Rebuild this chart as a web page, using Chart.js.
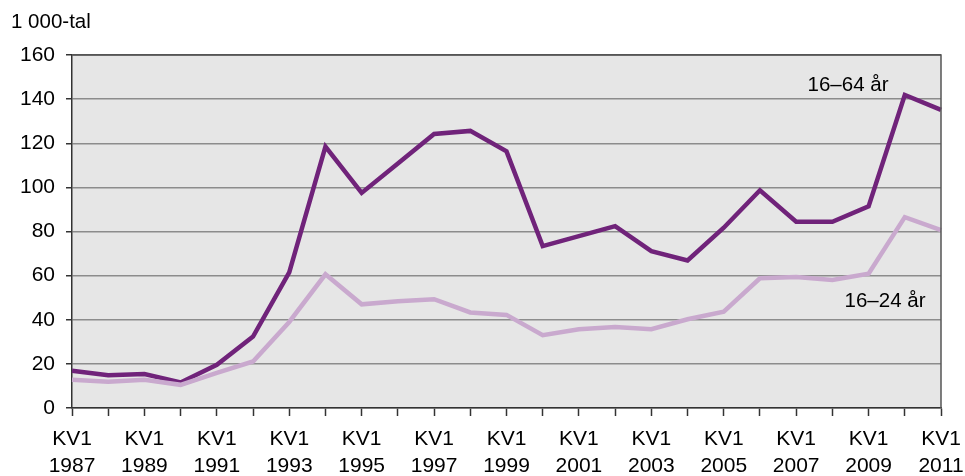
<!DOCTYPE html>
<html>
<head>
<meta charset="utf-8">
<script src="https://cdn.jsdelivr.net/npm/chart.js@4/dist/chart.umd.min.js"></script>
<style>
  html, body { margin: 0; padding: 0; background: #ffffff; }
  #wrap { position: relative; width: 965px; height: 476px; }
</style>
</head>
<body>
<div id="wrap"><canvas id="c" width="965" height="476"></canvas></div>
<script>
const years = [1987,1988,1989,1990,1991,1992,1993,1994,1995,1996,1997,1998,1999,2000,2001,2002,2003,2004,2005,2006,2007,2008,2009,2010,2011];
const quarterLabel = 'KV1';
const series1664 = [16.9,14.9,15.4,11.6,19.6,32.4,61.5,118.5,97.5,110.8,124.2,125.6,116.3,73.4,77.9,82.4,71.1,66.9,81.7,98.7,84.4,84.4,91.4,141.9,135.1];
const series1624 = [12.8,11.9,12.8,10.5,15.9,21.1,39.0,60.6,47.0,48.4,49.3,43.3,42.2,33.0,35.7,36.7,35.7,40.2,43.7,58.8,59.4,58.0,60.9,86.5,80.6];
const seriesNames = ['16–64 år', '16–24 år'];
const yTicks = [0,20,40,60,80,100,120,140,160];
const unitLabel = '1 000-tal';

const FONT = 'Liberation Sans, Arial, sans-serif';

const annotPlugin = {
  id: 'annot',
  afterDraw(chart) {
    const ctx = chart.ctx;
    const a = chart.chartArea;
    ctx.save();
    ctx.strokeStyle = '#555555';
    ctx.lineWidth = 1.5;
    ctx.beginPath();
    ctx.moveTo(a.left, a.top);
    ctx.lineTo(a.right, a.top);
    ctx.lineTo(a.right, a.bottom);
    ctx.stroke();
    ctx.fillStyle = '#000000';
    ctx.font = '20.5px ' + FONT;
    ctx.textAlign = 'left';
    ctx.textBaseline = 'middle';
    ctx.fillText(unitLabel, 11, 22);
    ctx.textAlign = 'center';
    ctx.fillText(seriesNames[0], 848, 85);
    ctx.fillText(seriesNames[1], 885, 301);
    ctx.restore();
  }
};

const bgPlugin = {
  id: 'bg',
  beforeDraw(chart) {
    const a = chart.chartArea;
    const ctx = chart.ctx;
    ctx.save();
    ctx.fillStyle = '#e6e6e6';
    ctx.fillRect(a.left, a.top, a.right - a.left, a.bottom - a.top);
    ctx.restore();
  }
};

new Chart(document.getElementById('c'), {
  type: 'line',
  data: {
    labels: years.map(String),
    datasets: [
      { label: seriesNames[1], data: series1624, borderColor: '#c9a9ce', borderWidth: 4.5, pointRadius: 0, tension: 0, borderJoinStyle: 'miter' },
      { label: seriesNames[0], data: series1664, borderColor: '#70237a', borderWidth: 4.5, pointRadius: 0, tension: 0, borderJoinStyle: 'miter' }
    ]
  },
  options: {
    responsive: false,
    animation: false,
    layout: { padding: { left: 0, top: 55, right: 24, bottom: 0 } },
    plugins: { legend: { display: false }, tooltip: { enabled: false } },
    scales: {
      x: {
        type: 'category',
        offset: false,
        afterFit(s) { s.height = 68; s.paddingRight = 0; s.paddingLeft = 0; },
        border: { display: true, color: '#333333', width: 1.5 },
        grid: { display: true, drawOnChartArea: false, drawTicks: true, tickLength: 8, tickColor: '#333333', tickWidth: 1.5 },
        ticks: {
          autoSkip: false,
          maxRotation: 0,
          padding: 10,
          color: '#000000',
          font: { family: FONT, size: 21, lineHeight: 1.29 },
          callback(v, i) { return i % 2 === 0 ? [quarterLabel, String(years[i])] : ''; }
        }
      },
      y: {
        min: 0, max: 160,
        afterFit(s) { s.width = 72; s.paddingTop = 0; s.paddingBottom = 0; },
        afterBuildTicks(s) { s.ticks = yTicks.map(v => ({ value: v })); },
        border: { display: true, color: '#333333', width: 1.5 },
        grid: {
          display: true, drawTicks: true, tickLength: 6, tickColor: '#333333',
          color: ctx => (ctx.tick && ctx.tick.value === 160) ? '#555555' : '#8c8c8c',
          lineWidth: 1.5
        },
        ticks: {
          padding: 11,
          color: '#000000',
          font: { family: FONT, size: 21 }
        }
      }
    }
  },
  plugins: [bgPlugin, annotPlugin]
});
</script>
</body>
</html>
